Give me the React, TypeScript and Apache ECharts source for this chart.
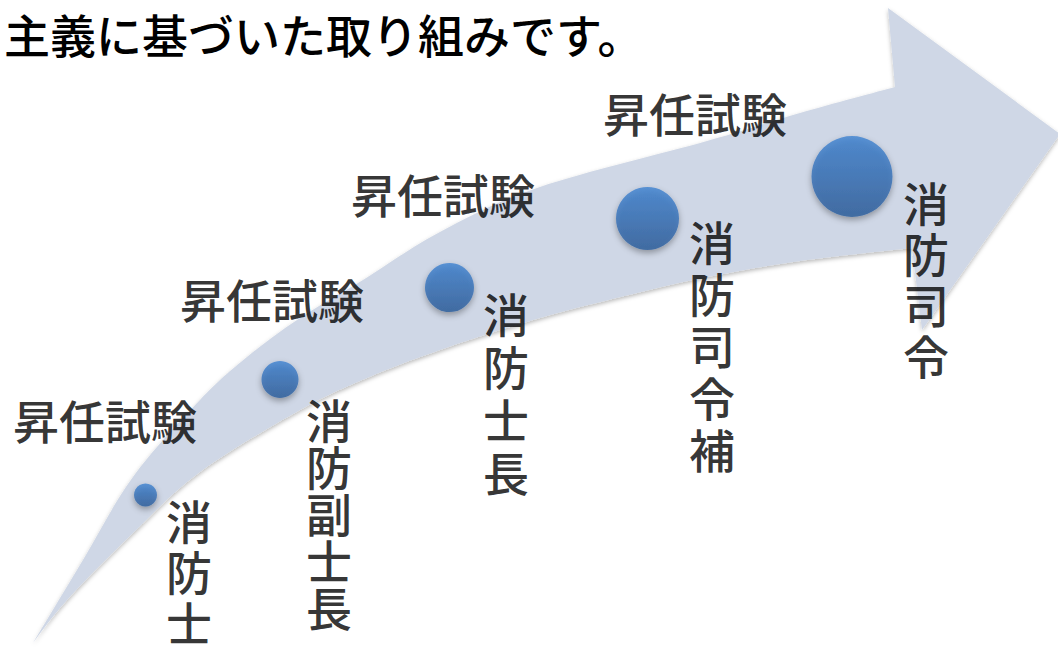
import React, { useEffect, useRef } from "react";
import * as echarts from "echarts";

// Promotion steps (circles along the arrow)
const stepX = [145.5, 280, 449.5, 647.5, 852];
const stepY = [495, 379.5, 287.5, 218.5, 176.5];
const stepSize = [23, 37, 49, 63, 81];

// Rank names (vertical labels)
const rankNames = ["消防士", "消防副士長", "消防士長", "消防司令補", "消防司令"];
const rankX = [189, 329, 506, 712, 926];
const rankY = [493, 394, 285, 213, 175];

// Exam labels
const examText = "昇任試験";
const examX = [105, 272, 443, 695];
const examY = [419, 298, 193, 112];

const titleText = "主義に基づいた取り組みです。";

// vertical character pitch of each rank label (style)
const labelPitch = [51, 47, 53, 52, 51];

// Arrow outline (decoration)
const upperEdge: number[][] = [
  [33, 643], [83, 560], [133, 477], [200, 400], [247, 357], [300, 318],
  [363, 280], [440, 232], [540, 187], [707, 141], [800, 113], [895, 87],
];
const headPts: number[][] = [[888, 8], [1060, 134], [922, 330], [912, 248]];
const lowerEdge: number[][] = [
  [912, 248], [800, 261], [707, 277], [633, 294], [540, 318], [440, 350],
  [367, 378], [300, 410], [200, 472], [133, 533], [67, 600], [33, 643],
];

function crSegments(pts: number[][]): string {
  let d = "";
  for (let i = 0; i < pts.length - 1; i++) {
    const p0 = pts[Math.max(0, i - 1)];
    const p1 = pts[i];
    const p2 = pts[i + 1];
    const p3 = pts[Math.min(pts.length - 1, i + 2)];
    const c1x = p1[0] + (p2[0] - p0[0]) / 6;
    const c1y = p1[1] + (p2[1] - p0[1]) / 6;
    const c2x = p2[0] - (p3[0] - p1[0]) / 6;
    const c2y = p2[1] - (p3[1] - p1[1]) / 6;
    d += ` C ${c1x} ${c1y} ${c2x} ${c2y} ${p2[0]} ${p2[1]}`;
  }
  return d;
}

function arrowPath(): string {
  let d = `M ${upperEdge[0][0]} ${upperEdge[0][1]}`;
  d += crSegments(upperEdge);
  for (const p of headPts) d += ` L ${p[0]} ${p[1]}`;
  d += crSegments(lowerEdge);
  d += " Z";
  return d;
}

let registered = false;

export default function App() {
  const ref = useRef<HTMLDivElement>(null);
  useEffect(() => {
    if (!ref.current) return;
    if (!registered) {
      echarts.graphic.registerShape("curvedArrow", echarts.graphic.extendPath(arrowPath(), {}));
      registered = true;
    }
    const chart = echarts.init(ref.current, null, { renderer: "svg" });
    const font = "'Noto Sans CJK JP', 'Noto Sans CJK SC', sans-serif";
    const weight = 500;
    chart.setOption({
      animation: false,
      backgroundColor: "#ffffff",
      title: {
        text: titleText,
        left: 4,
        top: 10,
        padding: 0,
        textStyle: { fontSize: 46, fontWeight: weight, color: "#000", fontFamily: font },
      },
      grid: { left: 0, right: 0, top: 0, bottom: 0 },
      xAxis: { type: "value", min: 0, max: 1058, show: false },
      yAxis: { type: "value", min: 0, max: 648, inverse: true, show: false },
      graphic: [
        {
          type: "curvedArrow",
          x: 0,
          y: 0,
          z: 0,
          silent: true,
          style: {
            fill: "#cfd7e6",
            shadowBlur: 4,
            shadowOffsetY: 2,
            shadowColor: "rgba(0,0,0,0.28)",
          },
        },
      ],
      series: [
        {
          type: "scatter",
          z: 3,
          data: stepX.map((x, i) => [x, stepY[i], stepSize[i]]),
          symbolSize: (v: number[]) => v[2],
          itemStyle: {
            color: new echarts.graphic.LinearGradient(0, 0, 0, 1, [
              { offset: 0, color: "#3d81d0" },
              { offset: 1, color: "#2c5d9b" },
            ]),
            shadowBlur: 6,
            shadowOffsetY: 3,
            shadowColor: "rgba(0,0,0,0.4)",
          },
        },
        {
          type: "scatter",
          z: 4,
          data: rankX.map((x, i) => ({
            value: [x, rankY[i]],
            name: rankNames[i],
            label: { lineHeight: labelPitch[i] },
          })),
          symbolSize: 1,
          itemStyle: { color: "transparent" },
          label: {
            show: true,
            position: "bottom",
            distance: 0,
            formatter: (p: any) => p.name.split("").join("\n"),
            fontSize: 46,
            fontWeight: weight,
            lineHeight: 51,
            color: "#000",
            fontFamily: font,
          },
        },
        {
          type: "scatter",
          z: 4,
          data: examX.map((x, i) => [x, examY[i]]),
          symbolSize: 1,
          itemStyle: { color: "transparent" },
          label: {
            show: true,
            position: "inside",
            formatter: examText,
            fontSize: 46,
            fontWeight: weight,
            color: "#000",
            fontFamily: font,
          },
        },
      ],
    });
    return () => chart.dispose();
  }, []);
  return (
    <div
      ref={ref}
      style={{ position: "absolute", left: 0, top: 0, width: "1058px", height: "648px" }}
    />
  );
}
